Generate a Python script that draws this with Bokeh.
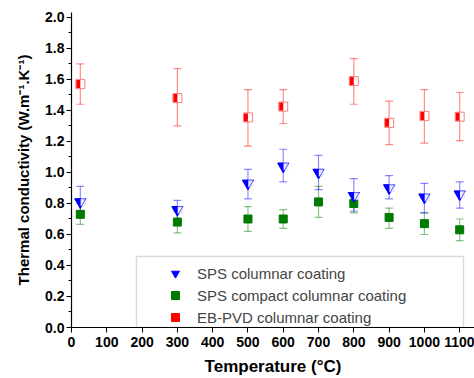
from bokeh.plotting import figure
from bokeh.models import (Whisker, ColumnDataSource, SingleIntervalTicker, PrintfTickFormatter,
                          Legend, LegendItem, BoxAnnotation, TeeHead, Range1d)
from bokeh.transform import dodge
from bokeh.embed import file_html
from bokeh.resources import INLINE

# ---- data ----
temps = [25, 300, 500, 600, 700, 800, 900, 1000, 1100]
sps_col = [0.81, 0.76, 0.93, 1.04, 1.00, 0.85, 0.90, 0.84, 0.86]
sps_col_hi = [0.91, 0.82, 1.02, 1.15, 1.11, 0.96, 0.98, 0.93, 0.94]
sps_col_lo = [0.71, 0.70, 0.83, 0.94, 0.89, 0.75, 0.83, 0.74, 0.77]

sps_cmp = [0.73, 0.68, 0.70, 0.70, 0.81, 0.80, 0.71, 0.67, 0.63]
sps_cmp_hi = [0.80, 0.75, 0.78, 0.76, 0.91, 0.87, 0.77, 0.74, 0.70]
sps_cmp_lo = [0.665, 0.61, 0.62, 0.64, 0.71, 0.74, 0.64, 0.60, 0.56]

eb_temps = [25, 300, 500, 600, 800, 900, 1000, 1100]
eb = [1.57, 1.48, 1.355, 1.425, 1.59, 1.32, 1.365, 1.36]
eb_hi = [1.70, 1.67, 1.535, 1.535, 1.735, 1.46, 1.535, 1.516]
eb_lo = [1.44, 1.30, 1.17, 1.316, 1.44, 1.18, 1.19, 1.206]

labels = ["SPS columnar coating", "SPS compact columnar coating", "EB-PVD columnar coating"]

BLUE = "#0000ff"
GREEN = "#007a00"
RED = "#ff0000"
FONT = "Liberation Sans"

W, H = 474, 378
ML, MR, MT, MB = 71, 0, 12, 51
X0, X1 = 0, 1142
Y0, Y1 = 0, 2.032
frame_w = W - ML - MR
px = (X1 - X0) / frame_w  # data units per pixel

p = figure(width=W, height=H, output_backend="svg", toolbar_location=None,
           x_range=Range1d(X0, X1), y_range=Range1d(Y0, Y1),
           min_border_left=ML, min_border_right=MR, min_border_top=MT, min_border_bottom=MB)
p.outline_line_color = None
p.xgrid.visible = False
p.ygrid.visible = False
p.background_fill_color = "white"

s_col = ColumnDataSource(dict(x=temps, y=sps_col, hi=sps_col_hi, lo=sps_col_lo))
s_cmp = ColumnDataSource(dict(x=temps, y=sps_cmp, hi=sps_cmp_hi, lo=sps_cmp_lo))
s_eb = ColumnDataSource(dict(x=eb_temps, y=eb, hi=eb_hi, lo=eb_lo))

for src, col in [(s_cmp, GREEN), (s_eb, RED), (s_col, BLUE)]:
    w = Whisker(source=src, base="x", upper="hi", lower="lo", dimension="height",
                line_color=col, line_alpha=0.45, line_width=1.2,
                upper_head=TeeHead(size=8, line_color=col, line_alpha=0.45, line_width=1.2),
                lower_head=TeeHead(size=8, line_color=col, line_alpha=0.45, line_width=1.2))
    p.add_layout(w)

# legend box
box = BoxAnnotation(left=184, right=1111, bottom=0, top=0.458,
                    fill_color="white", fill_alpha=1.0, line_color="#808080", line_width=1.3,
                    level="underlay")
p.add_layout(box)

# green: filled squares
g = p.scatter("x", "y", source=s_cmp, marker="square", size=8, fill_color=GREEN, line_color=GREEN)

# red: half-filled squares (white square, left half filled, light outline)
p.scatter("x", "y", source=s_eb, marker="square", size=9, fill_color="white", line_color=RED, line_alpha=0.5, line_width=1)
p.rect(x=dodge("x", -2.0 * px), y="y", source=s_eb, width=4, height=8,
       width_units="screen", height_units="screen", fill_color=RED, line_color=None)

# blue: half-filled inverted triangles (filled triangle, right half pale, outline)
b_base = p.scatter("x", "y", source=s_col, marker="inverted_triangle", size=11, fill_color=BLUE, line_color=BLUE)
p.rect(x=dodge("x", 2.8 * px), y="y", source=s_col, width=5, height=8,
       width_units="screen", height_units="screen", fill_color="#e8e8ff", line_color=None)
p.scatter("x", "y", source=s_col, marker="inverted_triangle", size=11, fill_color=None, line_color=BLUE, line_alpha=0.6, line_width=1)

r_legend = p.scatter("x", "y", source=s_eb, marker="square", size=8, fill_color=RED, line_color=RED, visible=False)

legend = Legend(items=[LegendItem(label=labels[0], renderers=[b_base]),
                       LegendItem(label=labels[1], renderers=[g]),
                       LegendItem(label=labels[2], renderers=[r_legend])],
                location=(94, 0), padding=4, margin=0, spacing=2,
                glyph_width=20, glyph_height=20, label_standoff=12,
                label_text_font=FONT, label_text_font_size="15px",
                border_line_color=None, background_fill_alpha=0)
p.add_layout(legend, "center")

# axes
for ax in (p.xaxis[0], p.yaxis[0]):
    ax.axis_line_color = "black"
    ax.axis_line_width = 1.2
    ax.major_tick_line_color = "black"
    ax.minor_tick_line_color = "black"
    ax.major_tick_in = 0
    ax.major_tick_out = 5
    ax.minor_tick_in = 0
    ax.minor_tick_out = 3
    ax.major_label_text_font = FONT
    ax.major_label_text_font_style = "bold"
    ax.major_label_text_font_size = "14px"
    ax.major_label_text_color = "black"
    ax.axis_label_text_font = FONT
    ax.axis_label_text_font_style = "bold"
    ax.axis_label_text_color = "black"

p.xaxis[0].ticker = SingleIntervalTicker(interval=100, num_minor_ticks=0)
p.yaxis[0].ticker = SingleIntervalTicker(interval=0.2, num_minor_ticks=2)
p.yaxis[0].formatter = PrintfTickFormatter(format="%.1f")
p.xaxis[0].axis_label = "Temperature (°C)"
p.yaxis[0].axis_label = "Thermal conductivity (W.m⁻¹.K⁻¹)"
p.xaxis[0].axis_label_text_font_size = "17px"
p.yaxis[0].axis_label_text_font_size = "15px"
p.xaxis[0].major_label_standoff = 4
p.yaxis[0].major_label_standoff = 2
p.xaxis[0].axis_label_standoff = 7
p.yaxis[0].axis_label_standoff = 10

open("out.html", "w").write(file_html(p, INLINE))
